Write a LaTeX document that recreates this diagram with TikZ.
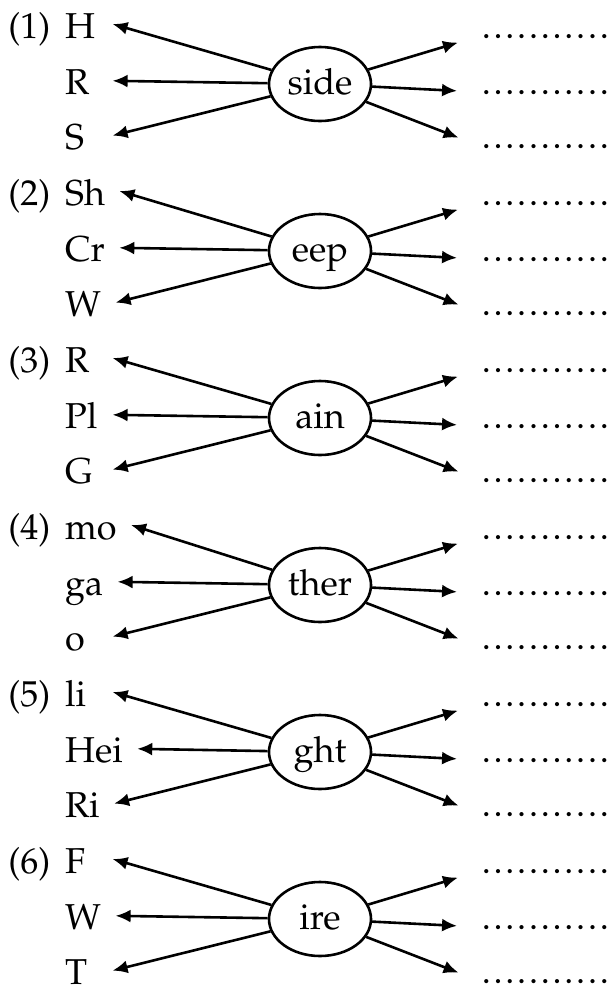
\documentclass[tikz,border=0pt]{standalone}
\usepackage[T1]{fontenc}
\usepackage{mathpazo}
\usetikzlibrary{positioning, shapes.geometric, arrows.meta}

\newcommand{\wbox}[1]{\vtop{\offinterlineskip\hbox{#1}\hbox to 16.5pt{}}}
\newcommand{\blankdots}{\hbox{\leaders\hbox to 5.9pt{\hss.\hss}\hskip 59pt\kern0.7pt.}}

\tikzset{
	num/.style={anchor=base west, inner sep=0pt},
	word/.style={inner xsep=7pt, inner ysep=0pt, text height=14pt, text depth=0pt},
	stem/.style={ellipse, draw, line width=1.3pt, minimum width=51pt, minimum height=37pt, inner sep=0pt, text height=10pt, text depth=0pt},
	blank/.style={anchor=base west, inner sep=0pt, text height=2pt, text depth=0pt},
	link/.style={-{Latex[length=7.5pt,width=6.5pt]}, line width=1.3pt}
}

\begin{document}
\begin{tikzpicture}[x=0.5pt, y=-0.5pt, font=\fontsize{18}{22}\selectfont]
		\useasboundingbox (0,0) rectangle (609,986);
		
		\foreach \i/\sfx/\wa/\wb/\wc in {1/side/H/R/S, 2/eep/Sh/Cr/W, 3/ain/R/Pl/G, 4/ther/mo/ga/o, 5/ght/li/Hei/Ri, 6/ire/F/W/T}{
			\begin{scope}[shift={(0,{167*(\i-1)})}]
				\node[num] (n\i) at (8,38) {(\i)};
				\node[word, base right=0pt of n\i] (a\i) {\wbox{\wa}};
				\node[word, below=14pt of a\i.south west, anchor=north west] (b\i) {\wbox{\wb}};
				\node[word, below=13pt of b\i.south west, anchor=north west] (e\i) {\wbox{\wc}};
				
				\node[stem] (c\i) at (320,84) {\sfx};
				
				\node[blank] (d\i) at (480,38) {\blankdots};
				\node[blank] (f\i) at (480,94) {\blankdots};
				\node[blank] (g\i) at (480,148) {\blankdots};
				
				\draw[link] (c\i) -- (a\i.east);
				\draw[link] (c\i) -- (b\i.east);
				\draw[link] (c\i) -- (e\i.east);
				\draw[link, shorten >=11.5pt] (c\i) -- (d\i.west);
				\draw[link, shorten >=11.5pt] (c\i) -- (f\i.west);
				\draw[link, shorten >=11.5pt] (c\i) -- (g\i.west);
			\end{scope}
		}
\end{tikzpicture}
\end{document}
